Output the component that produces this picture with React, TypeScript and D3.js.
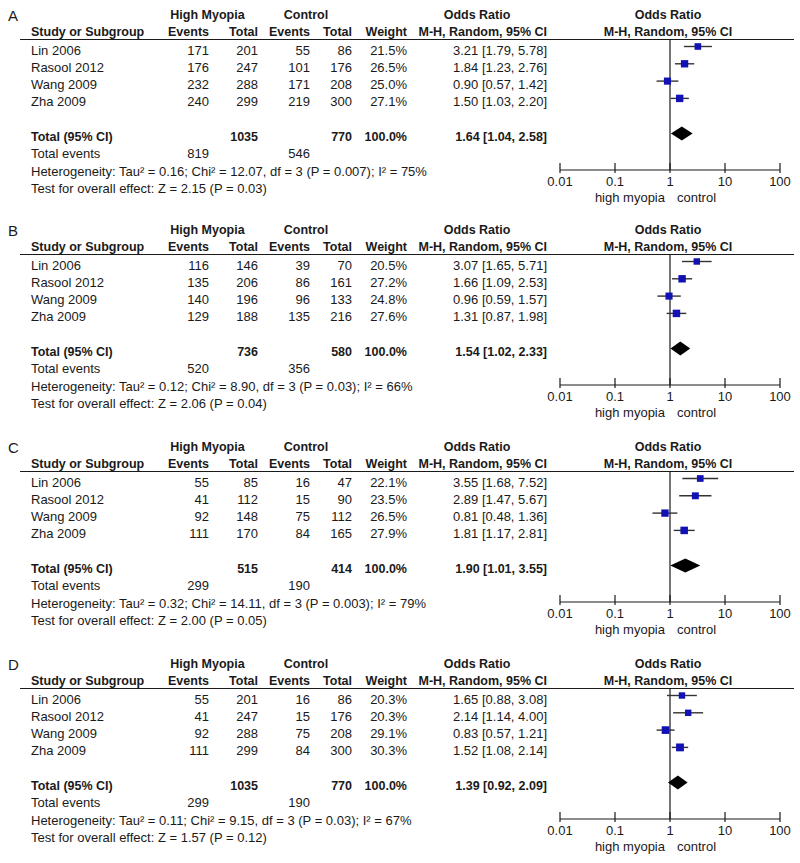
import React from 'react'
import * as d3 from 'd3'

const studies = ['Lin 2006', 'Rasool 2012', 'Wang 2009', 'Zha 2009']
const panelLabels = ['A', 'B', 'C', 'D']
const orTicks = [0.01, 0.1, 1, 10, 100]

const hmEvents = [[171, 176, 232, 240], [116, 135, 140, 129], [55, 41, 92, 111], [55, 41, 92, 111]]
const hmTotal = [[201, 247, 288, 299], [146, 206, 196, 188], [85, 112, 148, 170], [201, 247, 288, 299]]
const ctEvents = [[55, 101, 171, 219], [39, 86, 96, 135], [16, 15, 75, 84], [16, 15, 75, 84]]
const ctTotal = [[86, 176, 208, 300], [70, 161, 133, 216], [47, 90, 112, 165], [86, 176, 208, 300]]
const weights = [[21.5, 26.5, 25.0, 27.1], [20.5, 27.2, 24.8, 27.6], [22.1, 23.5, 26.5, 27.9], [20.3, 20.3, 29.1, 30.3]]
const oddsRatio = [[3.21, 1.84, 0.90, 1.50], [3.07, 1.66, 0.96, 1.31], [3.55, 2.89, 0.81, 1.81], [1.65, 2.14, 0.83, 1.52]]
const ciLow = [[1.79, 1.23, 0.57, 1.03], [1.65, 1.09, 0.59, 0.87], [1.68, 1.47, 0.48, 1.17], [0.88, 1.14, 0.57, 1.08]]
const ciHigh = [[5.78, 2.76, 1.42, 2.20], [5.71, 2.53, 1.57, 1.98], [7.52, 5.67, 1.36, 2.81], [3.08, 4.00, 1.21, 2.14]]

const sumHmTotal = [1035, 736, 515, 1035]
const sumCtTotal = [770, 580, 414, 770]
const sumHmEvents = [819, 520, 299, 299]
const sumCtEvents = [546, 356, 190, 190]
const pooledOR = [1.64, 1.54, 1.90, 1.39]
const pooledLow = [1.04, 1.02, 1.01, 0.92]
const pooledHigh = [2.58, 2.33, 3.55, 2.09]
const heterogeneity = [
  'Heterogeneity: Tau² = 0.16; Chi² = 12.07, df = 3 (P = 0.007); I² = 75%',
  'Heterogeneity: Tau² = 0.12; Chi² = 8.90, df = 3 (P = 0.03); I² = 66%',
  'Heterogeneity: Tau² = 0.32; Chi² = 14.11, df = 3 (P = 0.003); I² = 79%',
  'Heterogeneity: Tau² = 0.11; Chi² = 9.15, df = 3 (P = 0.03); I² = 67%'
]
const overallEffect = [
  'Test for overall effect: Z = 2.15 (P = 0.03)',
  'Test for overall effect: Z = 2.06 (P = 0.04)',
  'Test for overall effect: Z = 2.00 (P = 0.05)',
  'Test for overall effect: Z = 1.57 (P = 0.12)'
]

const panelTop = [0, 215, 432, 649]

const font = '"Liberation Sans", Arial, sans-serif'
const ink = '#1a1a1a'
const blue = '#1212b4'

const fmt = (v: number) => v.toFixed(2)
const ciText = (o: number, l: number, h: number) => `${fmt(o)} [${fmt(l)}, ${fmt(h)}]`

function Panel({ p }: { p: number }) {
  const x = d3.scaleLog().domain([0.01, 100]).range([560, 780])
  const row = d3.scaleLinear().domain([0, 1]).range([50, 67.3])
  const side = d3.scaleSqrt().domain([0, 30]).range([0, 7.8])
  const axisY = 170
  const base = (i: number) => row(i) + 4.5

  const col = { hmE: 209, hmT: 258, ctE: 310, ctT: 352, w: 407, or: 547 }
  const bold = { fontWeight: 'bold' as const, fontSize: 12.5 }

  const diamondY = row(5) - 3
  const diamond = [
    [x(pooledLow[p]), diamondY],
    [x(pooledOR[p]), diamondY - 7],
    [x(pooledHigh[p]), diamondY],
    [x(pooledOR[p]), diamondY + 7]
  ].map(d => d.join(',')).join(' ')

  return (
    <g transform={`translate(0,${panelTop[p]})`} fill={ink} fontFamily={font} fontSize={13}>
      <text x={8} y={21} fontSize={15}>{panelLabels[p]}</text>

      <g {...bold}>
        <text x={207.5} y={18.5} textAnchor="middle">High Myopia</text>
        <text x={306} y={18.5} textAnchor="middle">Control</text>
        <text x={477} y={18.5} textAnchor="middle">Odds Ratio</text>
        <text x={668} y={18.5} textAnchor="middle">Odds Ratio</text>
        <text x={31} y={36}>Study or Subgroup</text>
        <text x={col.hmE} y={36} textAnchor="end">Events</text>
        <text x={col.hmT} y={36} textAnchor="end">Total</text>
        <text x={col.ctE} y={36} textAnchor="end">Events</text>
        <text x={col.ctT} y={36} textAnchor="end">Total</text>
        <text x={col.w} y={36} textAnchor="end">Weight</text>
        <text x={col.or} y={36} textAnchor="end">M-H, Random, 95% CI</text>
        <text x={668} y={36} textAnchor="middle">M-H, Random, 95% CI</text>
      </g>
      <line x1={20} x2={794} y1={39.5} y2={39.5} stroke={ink} strokeWidth={1.2} />

      {studies.map((s, i) => (
        <g key={s}>
          <text x={31} y={base(i)}>{s}</text>
          <text x={col.hmE} y={base(i)} textAnchor="end">{hmEvents[p][i]}</text>
          <text x={col.hmT} y={base(i)} textAnchor="end">{hmTotal[p][i]}</text>
          <text x={col.ctE} y={base(i)} textAnchor="end">{ctEvents[p][i]}</text>
          <text x={col.ctT} y={base(i)} textAnchor="end">{ctTotal[p][i]}</text>
          <text x={col.w} y={base(i)} textAnchor="end">{weights[p][i].toFixed(1)}%</text>
          <text x={col.or} y={base(i)} textAnchor="end">{ciText(oddsRatio[p][i], ciLow[p][i], ciHigh[p][i])}</text>
        </g>
      ))}

      <g {...bold}>
        <text x={31} y={base(5)}>Total (95% CI)</text>
        <text x={col.hmT} y={base(5)} textAnchor="end">{sumHmTotal[p]}</text>
        <text x={col.ctT} y={base(5)} textAnchor="end">{sumCtTotal[p]}</text>
        <text x={col.w} y={base(5)} textAnchor="end">100.0%</text>
        <text x={col.or} y={base(5)} textAnchor="end">{ciText(pooledOR[p], pooledLow[p], pooledHigh[p])}</text>
      </g>
      <text x={31} y={base(6)}>Total events</text>
      <text x={col.hmE} y={base(6)} textAnchor="end">{sumHmEvents[p]}</text>
      <text x={col.ctE} y={base(6)} textAnchor="end">{sumCtEvents[p]}</text>
      <text x={31} y={base(7)}>{heterogeneity[p]}</text>
      <text x={31} y={base(8)}>{overallEffect[p]}</text>

      {/* forest plot */}
      <line x1={x(1)} x2={x(1)} y1={39.5} y2={axisY} stroke={ink} strokeWidth={1.2} />
      {studies.map((s, i) => {
        const cy = row(i) - 3.5
        const sz = side(weights[p][i])
        return (
          <g key={`m${s}`}>
            <line x1={x(ciLow[p][i])} x2={x(ciHigh[p][i])} y1={cy} y2={cy} stroke="#333" strokeWidth={1.4} />
            <rect x={x(oddsRatio[p][i]) - sz / 2} y={cy - sz / 2} width={sz} height={sz} fill={blue} />
          </g>
        )
      })}
      <polygon points={diamond} fill="#000" />

      <line x1={x(0.01)} x2={x(100)} y1={axisY} y2={axisY} stroke={ink} strokeWidth={1.2} />
      {orTicks.map(t => (
        <g key={t}>
          <line x1={x(t)} x2={x(t)} y1={axisY - 7} y2={axisY + 3} stroke={ink} strokeWidth={1.2} />
          <text x={x(t)} y={axisY + 16} textAnchor="middle">{t}</text>
        </g>
      ))}
      <text x={665} y={axisY + 32} textAnchor="end">high myopia</text>
      <text x={677} y={axisY + 32}>control</text>
    </g>
  )
}

export default function App() {
  return (
    <svg width={800} height={863} style={{ position: 'absolute', left: 0, top: 0, background: '#fff' }}>
      {panelLabels.map((_, p) => <Panel key={p} p={p} />)}
    </svg>
  )
}
